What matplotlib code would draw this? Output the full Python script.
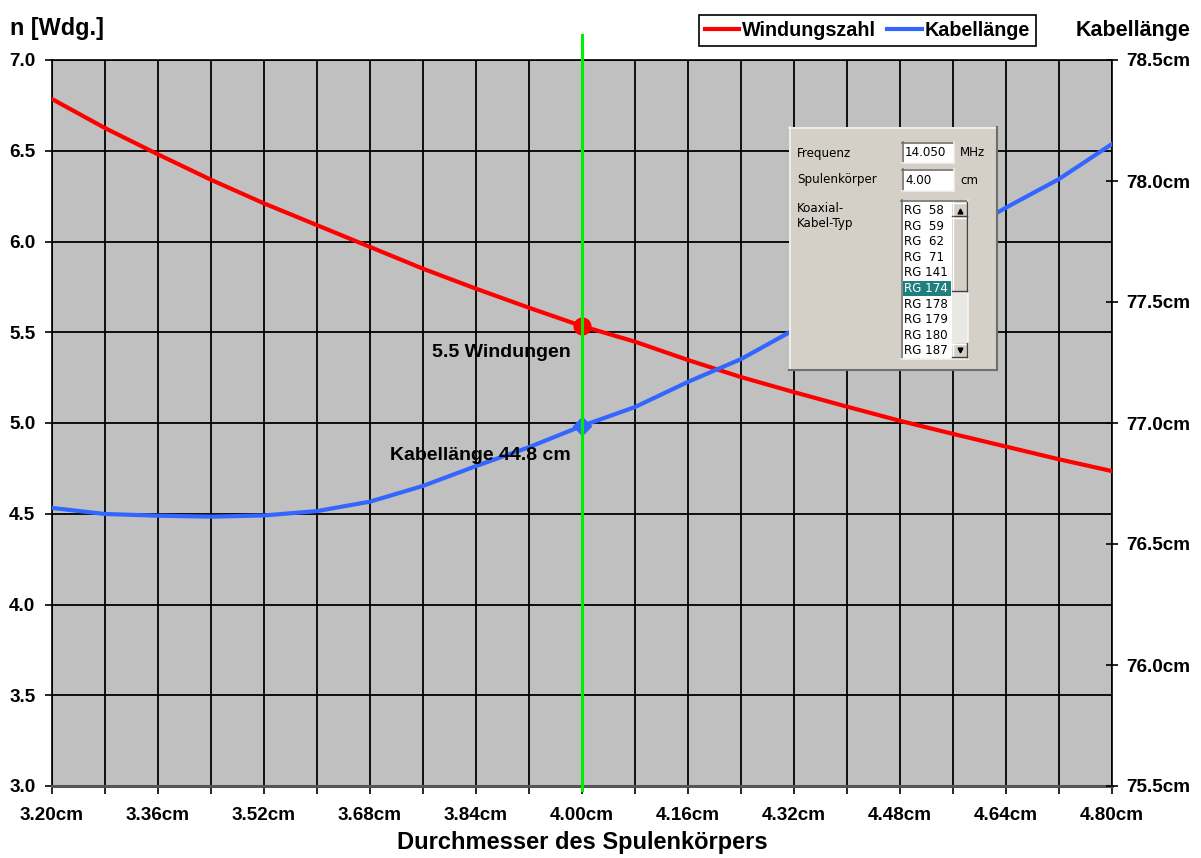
import numpy as np
import matplotlib
matplotlib.use("Agg")
import matplotlib.pyplot as plt
from matplotlib.lines import Line2D
from matplotlib.patches import Rectangle

plt.rcParams['font.family'] = ['Liberation Sans', 'DejaVu Sans']

# ---------------- data ----------------
diameter = [3.20, 3.28, 3.36, 3.44, 3.52, 3.60, 3.68, 3.76, 3.84, 3.92, 4.00,
            4.08, 4.16, 4.24, 4.32, 4.40, 4.48, 4.56, 4.64, 4.72, 4.80]
windungen = [6.785, 6.625, 6.48, 6.34, 6.21, 6.09, 5.97, 5.85, 5.74, 5.635, 5.534,
             5.448, 5.347, 5.253, 5.17, 5.09, 5.012, 4.94, 4.87, 4.80, 4.735]
kabel = [76.649, 76.624, 76.617, 76.613, 76.618, 76.636, 76.675, 76.74, 76.822, 76.90, 76.988,
         77.066, 77.17, 77.264, 77.385, 77.515, 77.64, 77.765, 77.89, 78.008, 78.153]
sel_d = 4.00
sel_n = 5.534
sel_k = 76.988
label_n = "5.5 Windungen"
label_k = "Kabellänge 44.8 cm"
x_ticks = [3.20, 3.36, 3.52, 3.68, 3.84, 4.00, 4.16, 4.32, 4.48, 4.64, 4.80]
x_minor = [3.28, 3.44, 3.60, 3.76, 3.92, 4.08, 4.24, 4.40, 4.56, 4.72]
left_ticks = [3.0, 3.5, 4.0, 4.5, 5.0, 5.5, 6.0, 6.5, 7.0]
right_ticks = [75.5, 76.0, 76.5, 77.0, 77.5, 78.0, 78.5]
coax_types = ["RG  58", "RG  59", "RG  62", "RG  71", "RG 141",
              "RG 174", "RG 178", "RG 179", "RG 180", "RG 187"]
selected_coax = "RG 174"
frequenz = "14.050"
spulenkoerper = "4.00"

W, H = 1201, 858
fig = plt.figure(figsize=(W / 100, H / 100), dpi=100)
L, R, T, B = 52, 1112, 60, 786
ax = fig.add_axes([L / W, 1 - B / H, (R - L) / W, (B - T) / H])
ax.set_facecolor('#C0C0C0')
ax.set_xlim(3.20, 4.80)
ax.set_ylim(3.0, 7.0)
ax.set_xticks(x_ticks)
ax.set_xticks(x_minor, minor=True)
ax.set_xticklabels([f"{v:.2f}cm" for v in x_ticks])
ax.set_yticks(left_ticks)
ax.set_yticklabels([f"{v:.1f}" for v in left_ticks])
for lab in ax.get_xticklabels() + ax.get_yticklabels():
    lab.set_fontweight('bold')
    lab.set_fontsize(13.6)
ax.tick_params(axis='x', which='both', direction='out', length=6, width=1.2, pad=9, colors='black')
ax.tick_params(axis='y', direction='out', length=5, width=1.2, pad=7)
ax.grid(True, which='both', axis='x', color='black', lw=1.3)
ax.grid(True, which='major', axis='y', color='black', lw=1.3)
ax.set_axisbelow(True)
for s in ['left', 'top', 'right']:
    ax.spines[s].set_color('black')
    ax.spines[s].set_linewidth(1.2)
ax.spines['bottom'].set_color('#555555')
ax.spines['bottom'].set_linewidth(2.2)

ax.set_xlabel("Durchmesser des Spulenkörpers", fontsize=17, fontweight='bold', labelpad=5)

red_line, = ax.plot(diameter, windungen, color='#FF0000', lw=3, label='Windungszahl', zorder=3)
ax.plot([sel_d], [sel_n], 'o', color='#FF0000', ms=12, zorder=4)

ax2 = ax.twinx()
ax2.set_ylim(75.5, 78.5)
ax2.set_yticks(right_ticks)
ax2.set_yticklabels([f"{v:.1f}cm" for v in right_ticks])
for lab in ax2.get_yticklabels():
    lab.set_fontweight('bold')
    lab.set_fontsize(13.6)
ax2.tick_params(axis='y', direction='inout', length=9, width=1.2, pad=6)
for s in ax2.spines.values():
    s.set_visible(False)
blue_line, = ax2.plot(diameter, kabel, color='#3366FF', lw=3, label='Kabellänge', zorder=3)
ax2.plot([sel_d], [sel_k], 'D', color='#3366FF', ms=9, zorder=4)
ax2.axvline(sel_d, ymin=-0.006, ymax=1.035, color='#00EE00', lw=2.2, clip_on=False, zorder=6)

ax.annotate(label_n, xy=(sel_d, sel_n), xytext=(-81, -26), textcoords='offset pixels',
            ha='center', va='center', fontsize=14, fontweight='bold')
ax2.annotate(label_k, xy=(sel_d, sel_k), xytext=(-102, -30), textcoords='offset pixels',
             ha='center', va='center', fontsize=14, fontweight='bold', zorder=7)

fig.text(10 / W, 1 - 35 / H, "n [Wdg.]", fontsize=16.8, fontweight='bold', ha='left', va='baseline')
fig.text(1076 / W, 1 - 36 / H, "Kabellänge", fontsize=15.5, fontweight='bold', ha='left', va='baseline')

leg = fig.legend([red_line, blue_line], ['Windungszahl', 'Kabellänge'], ncol=2,
                 loc='upper left', bbox_to_anchor=(699 / W, 1 - 15 / H), borderaxespad=0,
                 prop={'weight': 'bold', 'size': 14.2}, handlelength=1.75, handletextpad=0.15,
                 columnspacing=0.55, borderpad=0.3, fancybox=False, framealpha=1)
leg.get_frame().set_edgecolor('black')
leg.get_frame().set_linewidth(1.2)

# ---------------- dialog overlay (pixel coordinates) ----------------
ov = fig.add_axes([0, 0, 1, 1], zorder=20)
ov.set_xlim(0, W)
ov.set_ylim(H, 0)
ov.axis('off')
ov.patch.set_alpha(0)

face = '#D4D0C8'
dx0, dy0, dx1, dy1 = 789, 127, 997, 370
ov.add_patch(Rectangle((dx0, dy0), dx1 - dx0, dy1 - dy0, facecolor=face, edgecolor='none'))
ov.plot([dx0, dx1], [dy0 + 0.5, dy0 + 0.5], color='#F4F2EE', lw=1.2)
ov.plot([dx0 + 0.5, dx0 + 0.5], [dy0, dy1], color='#F4F2EE', lw=1.2)
ov.plot([dx0, dx1], [dy1 - 0.5, dy1 - 0.5], color='#6E6E6E', lw=1.5)
ov.plot([dx1 - 0.5, dx1 - 0.5], [dy0, dy1], color='#6E6E6E', lw=1.5)

def sunken_box(x0, y0, x1, y1, fc='white'):
    ov.add_patch(Rectangle((x0, y0), x1 - x0, y1 - y0, facecolor=fc, edgecolor='none'))
    ov.plot([x0, x1], [y0 + 0.5, y0 + 0.5], color='#6E6E6E', lw=1.2)
    ov.plot([x0 + 0.5, x0 + 0.5], [y0, y1], color='#6E6E6E', lw=1.2)
    ov.plot([x0, x1], [y1 - 0.5, y1 - 0.5], color='#F4F2EE', lw=1.2)
    ov.plot([x1 - 0.5, x1 - 0.5], [y0, y1], color='#F4F2EE', lw=1.2)

def raised_box(x0, y0, x1, y1, fc=face):
    ov.add_patch(Rectangle((x0, y0), x1 - x0, y1 - y0, facecolor=fc, edgecolor='none'))
    ov.plot([x0, x1], [y0 + 0.5, y0 + 0.5], color='white', lw=1)
    ov.plot([x0 + 0.5, x0 + 0.5], [y0, y1], color='white', lw=1)
    ov.plot([x0, x1], [y1 - 0.5, y1 - 0.5], color='#404040', lw=1)
    ov.plot([x1 - 0.5, x1 - 0.5], [y0, y1], color='#404040', lw=1)

dfont = dict(family='DejaVu Sans', fontsize=8.6, color='black', va='center', ha='left')
ov.text(797, 153, "Frequenz", **dfont)
ov.text(797, 180, "Spulenkörper", **dfont)
ov.text(797, 208, "Koaxial-", **dfont)
ov.text(797, 224, "Kabel-Typ", **dfont)
ov.text(960, 153, "MHz", **dfont)
ov.text(960, 180, "cm", **dfont)

sunken_box(902, 142, 954, 163)
ov.text(905, 153, frequenz, **dfont)
sunken_box(902, 169, 954, 191)
ov.text(905, 180, spulenkoerper, **dfont)

# list box
sunken_box(901, 200, 968, 359)
# scrollbar
ov.add_patch(Rectangle((952, 202), 15, 155, facecolor='#EAE8E2', edgecolor='none'))
raised_box(952, 202, 967, 216)
raised_box(952, 217, 967, 291)
raised_box(952, 343, 967, 357)
ov.plot([959.5], [210.5], marker='^', color='black', ms=3.5)
ov.plot([959.5], [349.5], marker='v', color='black', ms=3.5)

y_first, step = 210.7, 15.56
for i, name in enumerate(coax_types):
    yc = y_first + i * step
    col = 'black'
    if name == selected_coax:
        ov.add_patch(Rectangle((903, yc - 7.6), 48, 15.2, facecolor='#1F7F7F', edgecolor='none'))
        col = 'white'
    ov.text(904, yc, name, family='DejaVu Sans', fontsize=8.6, color=col, va='center', ha='left')

fig.savefig('out.png', dpi=100)
